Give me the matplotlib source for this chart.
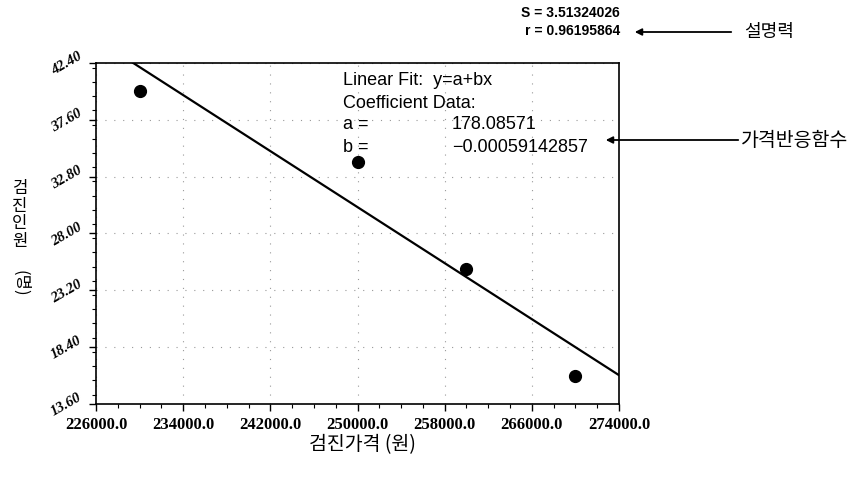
import matplotlib.pyplot as plt
from matplotlib.ticker import MultipleLocator, FormatStrFormatter

# data
price = [230000, 250000, 260000, 270000]
people = [40.0, 34.0, 25.0, 16.0]
fit_a = 178.08571
fit_b = -0.00059142857
fit_x = [226000, 274000]
x_ticks = [226000, 234000, 242000, 250000, 258000, 266000, 274000]
y_ticks = [13.6, 18.4, 23.2, 28.0, 32.8, 37.6, 42.4]

KR = ["Noto Sans CJK KR", "DejaVu Sans"]
W, H = 856, 481


def fx(px):
    return px / W


def fy(py):
    return 1 - py / H


fig = plt.figure(figsize=(8.56, 4.81), dpi=100)
ax = fig.add_axes([fx(96), fy(405), (619 - 96) / W, (405 - 64) / H])

ax.plot(price, people, "o", color="black", markersize=8.5)
ax.plot(fit_x, [fit_a + fit_b * x for x in fit_x], color="black", linewidth=1.6)

ax.set_xlim(x_ticks[0], x_ticks[-1])
ax.set_ylim(y_ticks[0], y_ticks[-1])
ax.set_xticks(x_ticks)
ax.set_yticks(y_ticks)
ax.xaxis.set_minor_locator(MultipleLocator(2000))
ax.yaxis.set_minor_locator(MultipleLocator(1.2))
ax.xaxis.set_major_formatter(FormatStrFormatter("%.1f"))
ax.yaxis.set_major_formatter(FormatStrFormatter("%.2f"))
ax.tick_params(which="major", length=5, width=1, direction="out")
ax.tick_params(which="minor", length=3, width=0.8, direction="out")
ax.grid(True, which="major", linestyle=(0, (1, 7)), color="#999999", linewidth=0.8)
for sp in ax.spines.values():
    sp.set_linewidth(1.2)

for lab in ax.get_xticklabels():
    lab.set_fontfamily("Liberation Serif")
    lab.set_fontweight("bold")
    lab.set_fontsize(12)
for lab in ax.get_yticklabels():
    lab.set_fontfamily("Liberation Serif")
    lab.set_fontweight("bold")
    lab.set_fontstyle("italic")
    lab.set_fontsize(10.5)
    lab.set_rotation(30)
    lab.set_va("center")

# fit box text
box_lines = [("Linear Fit:  y=a+bx", ""), ("Coefficient Data:", ""),
             ("a =", "178.08571"), ("b =", "\u22120.00059142857")]
for i, (left, right) in enumerate(box_lines):
    yy = fy(81 + 22 * i)
    fig.text(fx(343), yy, left, fontsize=13, family="Liberation Sans", va="center")
    if right:
        fig.text(fx(452), yy, right, fontsize=13, family="Liberation Sans", va="center")

# stats at the top
fig.text(fx(620), fy(13), "S = 3.51324026", fontsize=10, family="Liberation Sans",
         fontweight="bold", ha="right", va="center")
fig.text(fx(620), fy(31), "r = 0.96195864", fontsize=10, family="Liberation Sans",
         fontweight="bold", ha="right", va="center")

arrow = dict(arrowstyle="-|>", color="black", linewidth=1.3, mutation_scale=10)
fig.add_artist(plt.Annotation("", xy=(fx(632), fy(33)), xycoords="figure fraction",
                              xytext=(fx(734), fy(33)), textcoords="figure fraction",
                              arrowprops=arrow))
fig.text(fx(744), fy(32), "설명력", fontsize=13, family=KR, va="center")

fig.add_artist(plt.Annotation("", xy=(fx(603), fy(141)), xycoords="figure fraction",
                              xytext=(fx(741), fy(141)), textcoords="figure fraction",
                              arrowprops=arrow))
fig.text(fx(741), fy(140), "가격반응함수", fontsize=14, family=KR, va="center")

# axis labels
fig.text(fx(362), fy(445), "검진가격 (원)", fontsize=14, family=KR, ha="center", va="center")
fig.text(fx(20), fy(215), "검\n진\n인\n원", fontsize=12, family=KR, ha="center",
         va="center", linespacing=1.05)
fig.text(fx(20), fy(283), "(명)", fontsize=12, family=KR, ha="center", va="center",
         rotation=-90)

fig.savefig("out.png", dpi=100)
